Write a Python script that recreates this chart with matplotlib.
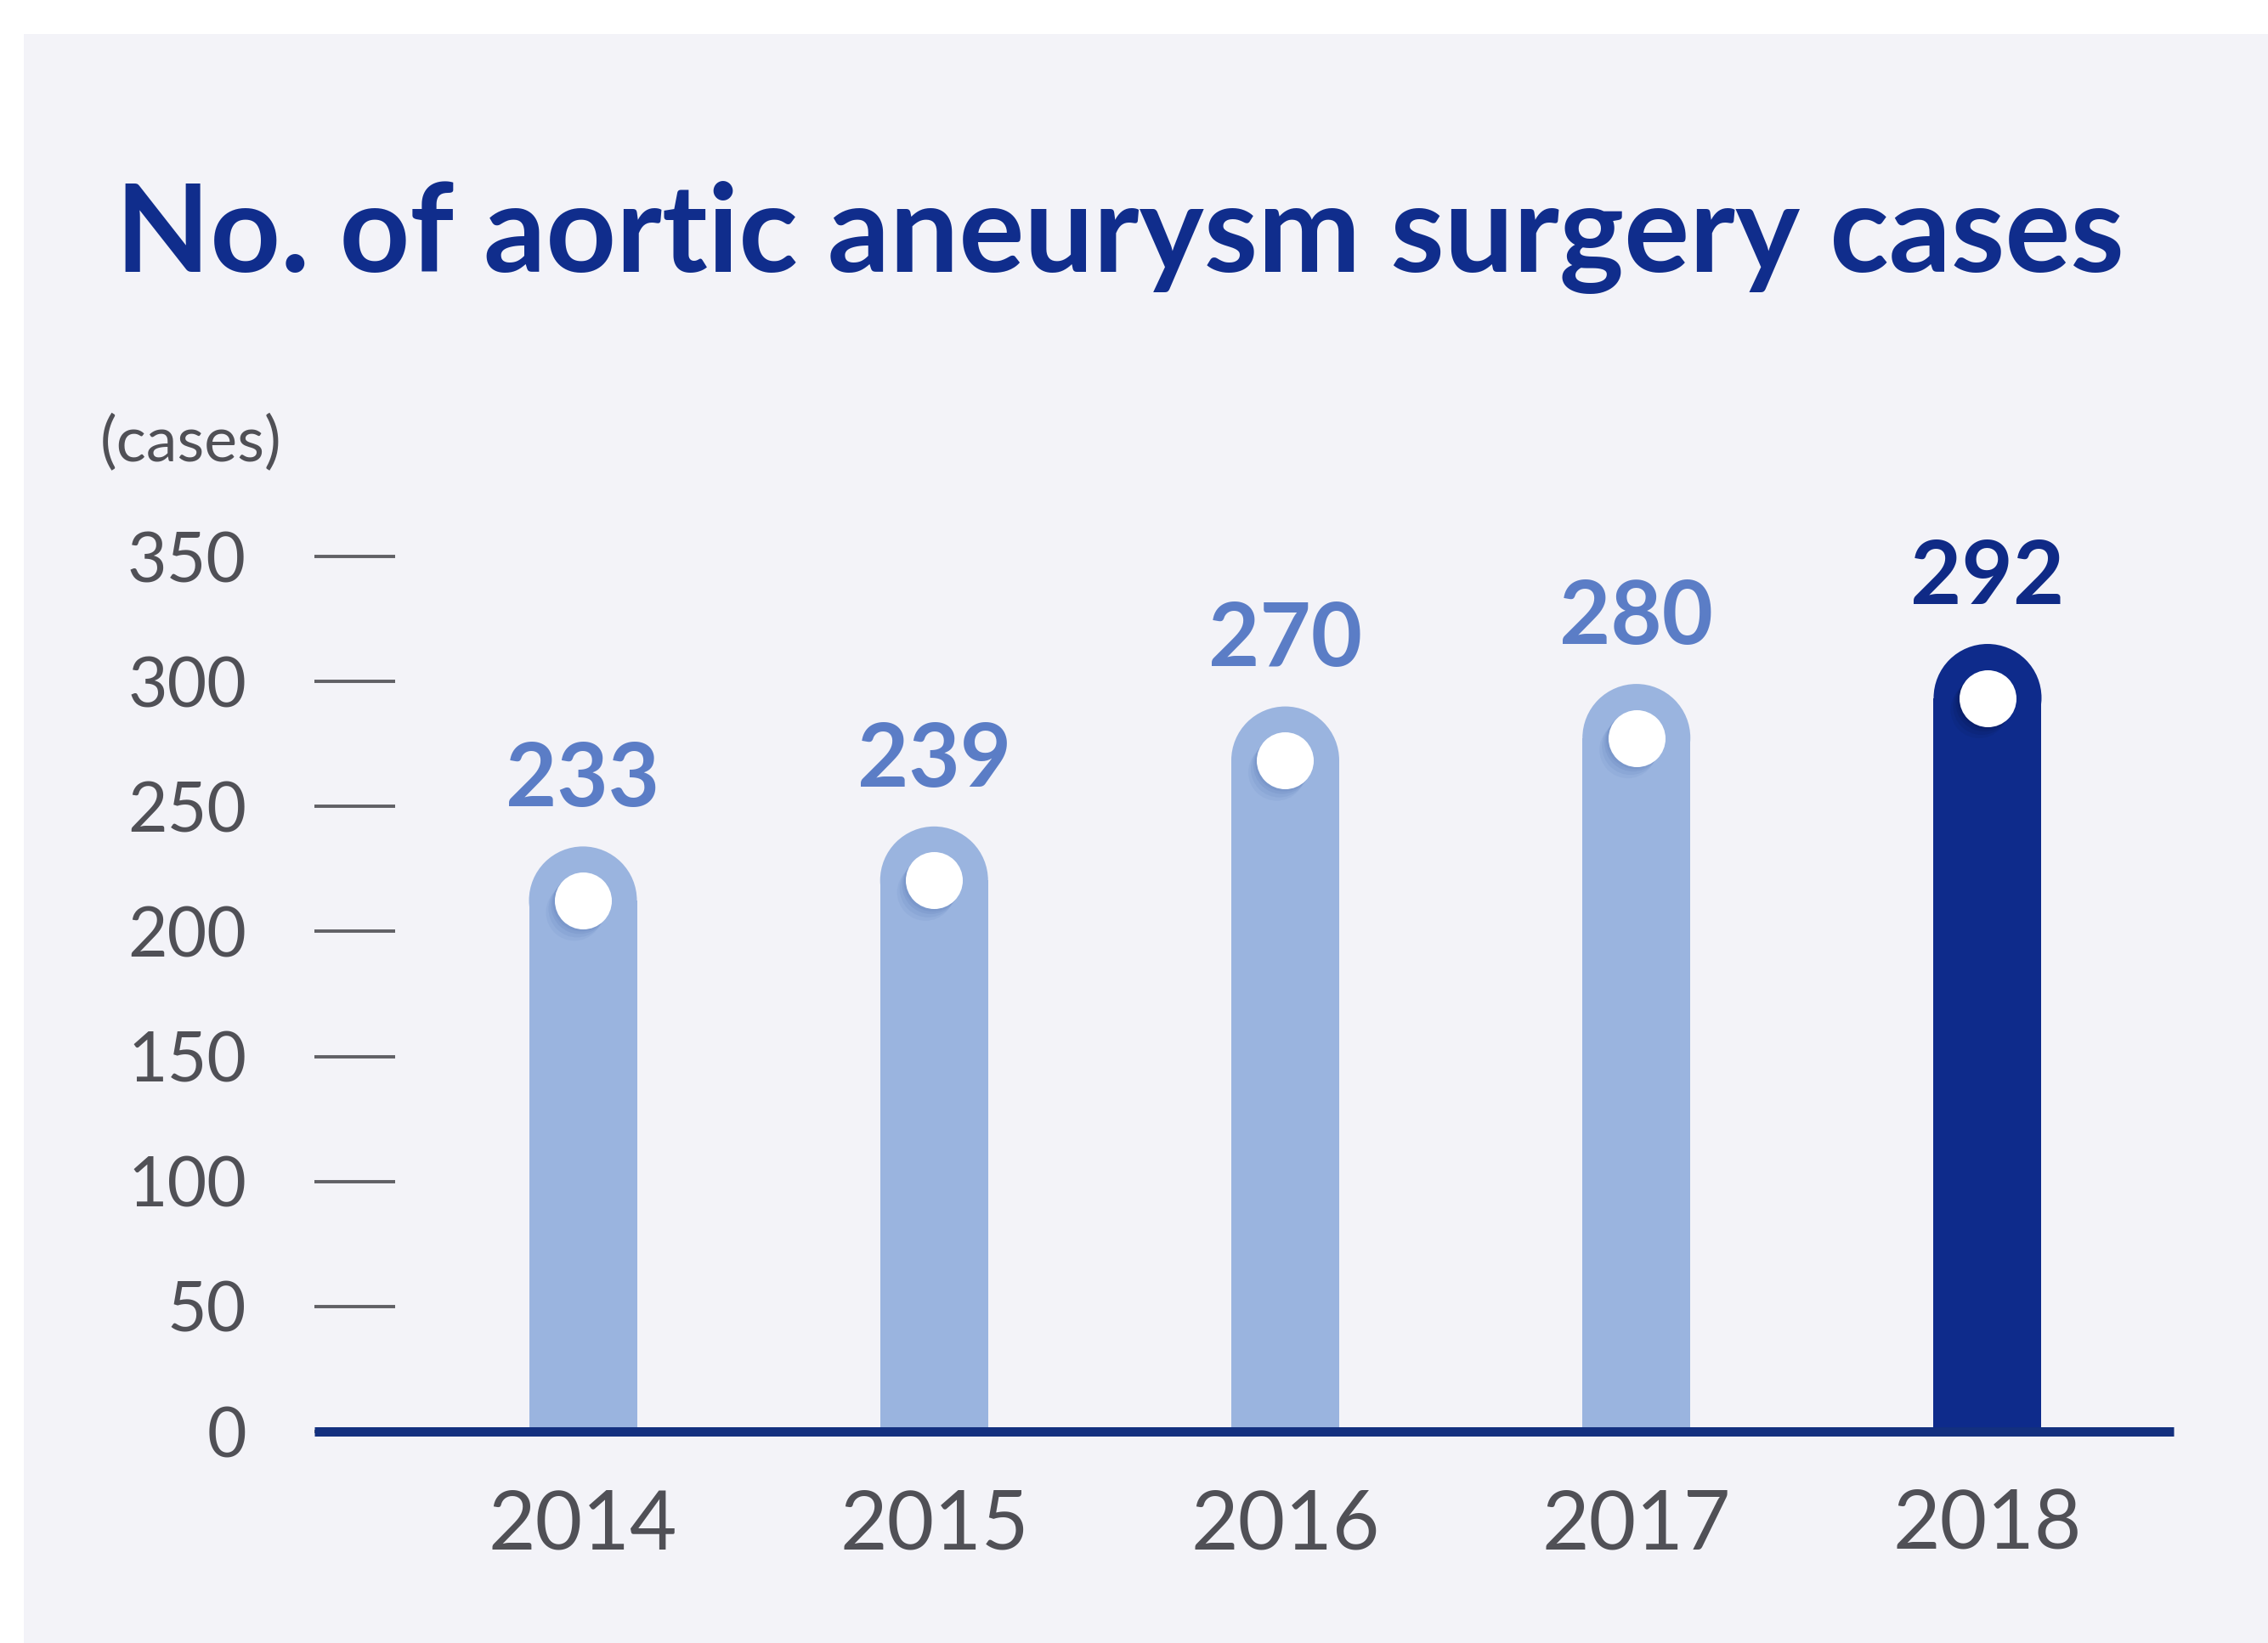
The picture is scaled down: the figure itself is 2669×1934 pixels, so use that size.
import matplotlib
matplotlib.use('Agg')
import matplotlib.pyplot as plt
from matplotlib.patches import Ellipse, Rectangle
import matplotlib.transforms as mtransforms
import numpy as np

# ---------------- data ----------------
years = ['2014', '2015', '2016', '2017', '2018']
cases = [233, 239, 270, 280, 292]            # values printed above the bars
bar_heights = [234, 242, 290, 299, 315]      # bar heights as drawn in the source graphic
highlight = [False, False, False, False, True]
y_ticks = [0, 50, 100, 150, 200, 250, 300, 350]

title = 'No. of aortic aneurysm surgery cases'
unit_label = '(cases)'

# ---------------- style ----------------
plt.rcParams['font.family'] = ['Lato', 'DejaVu Sans']
PANEL = '#F3F3F8'
LIGHT_BAR = '#9AB4DF'
DARK_BAR = '#0E2B8B'
LIGHT_LBL = '#5B7DC6'
DARK_LBL = '#0F2A86'
TITLE_C = '#102D8C'
GRAY = '#505056'
TICK_C = '#606065'
BASE_C = '#13307F'

W, H, DPI = 2669, 1934, 100
fig = plt.figure(figsize=(W / DPI, H / DPI), dpi=DPI, facecolor='white')
fig.patches.append(Rectangle((28 / W, 0), 1, 1 - 40 / H, transform=fig.transFigure,
                             facecolor=PANEL, edgecolor='none', zorder=-10))

ax_l, ax_r, ax_b, ax_t = 370, 2558, 1685, 655
ax = fig.add_axes([ax_l / W, (H - ax_b) / H, (ax_r - ax_l) / W, (ax_b - ax_t) / H])
ax.set_zorder(5)
ax.set_facecolor('none')
for s in ax.spines.values():
    s.set_visible(False)

x = np.arange(len(years))
ax.set_xlim(-0.7647, 4.530)
ax.set_ylim(y_ticks[0], y_ticks[-1])

# pixel -> data conversion for round caps
px_per_x = (ax_r - ax_l) / (4.530 + 0.7647)
px_per_y = (ax_b - ax_t) / (y_ticks[-1] - y_ticks[0])
bar_w = 127 / px_per_x
cap_ry = 63.5 / px_per_y
cap_rx = bar_w / 2

colors = [DARK_BAR if h else LIGHT_BAR for h in highlight]
lbl_colors = [DARK_LBL if h else LIGHT_LBL for h in highlight]
shadow_c = ['#071850' if h else '#5F7DBA' for h in highlight]

heights = np.array(bar_heights, dtype=float)
ax.bar(x, heights - cap_ry, width=bar_w, color=colors, zorder=3, linewidth=0)
for xi, h, c in zip(x, heights, colors):
    ax.add_patch(Ellipse((xi, h - cap_ry), 2 * cap_rx, 2 * cap_ry, facecolor=c,
                         edgecolor='none', zorder=3))

# soft shadow under the white dot (down-left)
for dx, dy, a in [(-10, -14, 0.10), (-7, -10, 0.14), (-4, -6, 0.18), (-2, -3, 0.2)]:
    tr = mtransforms.offset_copy(ax.transData, fig=fig, x=dx, y=dy, units='dots')
    ax.scatter(x, heights - cap_ry, s=2330, c=shadow_c, alpha=a,
               linewidths=0, transform=tr, zorder=4)
ax.scatter(x, heights - cap_ry, s=2330, c='white', linewidths=0, zorder=5)

# value labels
for xi, h, v, c in zip(x, heights, cases, lbl_colors):
    ax.text(xi, h + 16, str(v), ha='center', va='baseline', fontsize=75,
            fontweight='bold', color=c, zorder=6)

# baseline
ax.axhline(0, color=BASE_C, lw=7.9, zorder=7, solid_capstyle='butt', clip_on=False)

# y axis
ax.set_yticks(y_ticks)
ax.set_yticklabels([str(v) for v in y_ticks])
ax.tick_params(axis='y', direction='in', length=68.4, width=2.8, color=TICK_C,
               pad=57.6, labelsize=58, labelcolor=GRAY)

# x axis
ax.set_xticks(x)
ax.set_xticklabels(years)
ax.tick_params(axis='x', length=0, pad=99.4, labelsize=69, labelcolor=GRAY)
for lbl in ax.get_xticklabels():
    lbl.set_va('baseline')

# texts
t = fig.text(136 / W, 1 - 320 / H, title, fontsize=100, fontweight='bold',
             color=TITLE_C, ha='left', va='baseline')
fig.text(118 / W, 1 - 543 / H, unit_label, fontsize=53, color=GRAY,
         ha='left', va='baseline')

renderer = fig.canvas.get_renderer()
wpx = t.get_window_extent(renderer).width
t.set_fontsize(100 * 2363 / wpx)

fig.savefig('out.png', dpi=DPI, facecolor='white')
